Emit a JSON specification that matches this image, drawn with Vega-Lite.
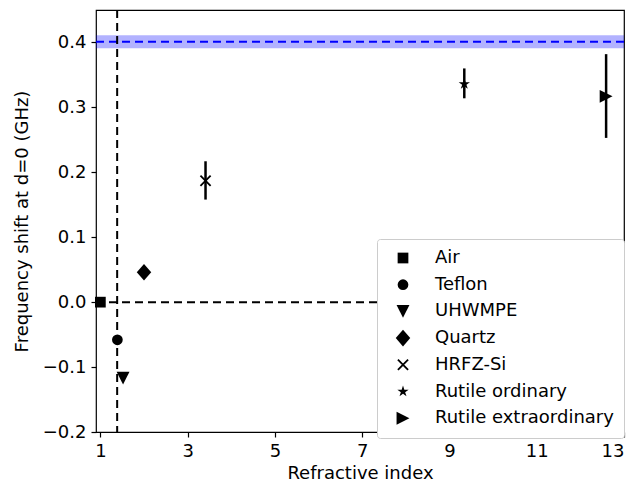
{
  "$schema": "https://vega.github.io/schema/vega-lite/v6.json",
  "width": 528,
  "height": 422,
  "autosize": {"type": "none"},
  "padding": {"left": 96, "top": 10, "right": 20, "bottom": 53},
  "config": {
    "font": "DejaVu Sans",
    "view": {"stroke": "black", "strokeWidth": 1.2},
    "axis": {
      "grid": false,
      "domain": false,
      "tickColor": "black",
      "tickSize": 5,
      "tickWidth": 1.2,
      "labelColor": "black",
      "labelFontSize": 18,
      "titleColor": "black",
      "titleFontSize": 18,
      "titleFontWeight": "normal",
      "labelPadding": 5
    }
  },
  "datasets": {
    "pts": [
      {"material": "Air", "n": 1.0, "shift": 0.0, "lo": 0.0, "hi": 0.0},
      {"material": "Teflon", "n": 1.39, "shift": -0.058, "lo": -0.058, "hi": -0.058},
      {"material": "UHWMPE", "n": 1.52, "shift": -0.117, "lo": -0.117, "hi": -0.117},
      {"material": "Quartz", "n": 2.0, "shift": 0.046, "lo": 0.046, "hi": 0.046},
      {"material": "HRFZ-Si", "n": 3.41, "shift": 0.187, "lo": 0.158, "hi": 0.217},
      {"material": "Rutile ordinary", "n": 9.34, "shift": 0.336, "lo": 0.314, "hi": 0.36},
      {"material": "Rutile extraordinary", "n": 12.59, "shift": 0.317, "lo": 0.253, "hi": 0.382}
    ],
    "band": [{"lo": 0.391, "hi": 0.411, "mid": 0.401}],
    "vline": [{"n": 1.385}],
    "hline": [{"y": 0}]
  },
  "layer": [
    {
      "data": {"name": "band"},
      "mark": {"type": "rect", "color": "blue", "opacity": 0.3},
      "encoding": {
        "y": {"field": "lo", "type": "quantitative", "scale": {"domain": [-0.2, 0.45], "nice": false, "zero": false},
          "axis": {"title": "Frequency shift at d=0 (GHz)", "orient": "left", "titlePadding": 11, "values": [-0.2, -0.1, 0, 0.1, 0.2, 0.3, 0.4], "format": ".1f"}},
        "y2": {"field": "hi"}
      }
    },
    {
      "data": {"name": "band"},
      "mark": {"type": "rule", "color": "blue", "strokeWidth": 2, "strokeDash": [8, 5]},
      "encoding": {
        "y": {"field": "mid", "type": "quantitative", "scale": {"domain": [-0.2, 0.45], "nice": false, "zero": false},
          "axis": {"title": "Frequency shift at d=0 (GHz)", "orient": "left", "titlePadding": 11, "values": [-0.2, -0.1, 0, 0.1, 0.2, 0.3, 0.4], "format": ".1f"}}
      }
    },
    {
      "data": {"name": "hline"},
      "mark": {"type": "rule", "color": "black", "strokeWidth": 2, "strokeDash": [8, 5]},
      "encoding": {
        "y": {"field": "y", "type": "quantitative", "scale": {"domain": [-0.2, 0.45], "nice": false, "zero": false},
          "axis": {"title": "Frequency shift at d=0 (GHz)", "orient": "left", "titlePadding": 11, "values": [-0.2, -0.1, 0, 0.1, 0.2, 0.3, 0.4], "format": ".1f"}}
      }
    },
    {
      "data": {"name": "vline"},
      "mark": {"type": "rule", "color": "black", "strokeWidth": 2, "strokeDash": [8, 5]},
      "encoding": {
        "x": {"field": "n", "type": "quantitative", "scale": {"domain": [0.9, 13], "nice": false, "zero": false},
          "axis": {"title": "Refractive index", "orient": "bottom", "values": [1, 3, 5, 7, 9, 11, 13], "format": "d"}}
      }
    },
    {
      "data": {"name": "pts"},
      "mark": {"type": "rule", "color": "black", "strokeWidth": 2.5},
      "encoding": {
        "x": {"field": "n", "type": "quantitative", "scale": {"domain": [0.9, 13], "nice": false, "zero": false},
          "axis": {"title": "Refractive index", "orient": "bottom", "values": [1, 3, 5, 7, 9, 11, 13], "format": "d"}},
        "y": {"field": "lo", "type": "quantitative", "scale": {"domain": [-0.2, 0.45], "nice": false, "zero": false},
          "axis": {"title": "Frequency shift at d=0 (GHz)", "orient": "left", "titlePadding": 11, "values": [-0.2, -0.1, 0, 0.1, 0.2, 0.3, 0.4], "format": ".1f"}},
        "y2": {"field": "hi"}
      }
    },
    {
      "data": {"name": "pts"},
      "mark": {"type": "point", "filled": true, "opacity": 1, "color": "black", "size": 115},
      "encoding": {
        "x": {"field": "n", "type": "quantitative", "scale": {"domain": [0.9, 13], "nice": false, "zero": false},
          "axis": {"title": "Refractive index", "orient": "bottom", "values": [1, 3, 5, 7, 9, 11, 13], "format": "d"}},
        "y": {"field": "shift", "type": "quantitative", "scale": {"domain": [-0.2, 0.45], "nice": false, "zero": false},
          "axis": {"title": "Frequency shift at d=0 (GHz)", "orient": "left", "titlePadding": 11, "values": [-0.2, -0.1, 0, 0.1, 0.2, 0.3, 0.4], "format": ".1f"}},
        "shape": {
          "field": "material", "type": "nominal",
          "scale": {
            "domain": ["Air", "Teflon", "UHWMPE", "Quartz", "HRFZ-Si", "Rutile ordinary", "Rutile extraordinary"],
            "range": [
              "square",
              "circle",
              "M-1.2,-1.2L1.2,-1.2L0,1.2Z",
              "M0,-1.55L1.35,0L0,1.55L-1.35,0Z",
              "M-0.83,-1.07L1.07,0.83L0.83,1.07L-1.07,-0.83ZM-1.07,0.83L0.83,-1.07L1.07,-0.83L-0.83,1.07Z",
              "M0,-1.1L0.25,-0.34L1.05,-0.34L0.4,0.13L0.65,0.89L0,0.42L-0.65,0.89L-0.4,0.13L-1.05,-0.34L-0.25,-0.34Z",
              "M-1.2,-1.2L1.2,0L-1.2,1.2Z"
            ]
          },
          "legend": {
            "title": null,
            "orient": "none",
            "legendX": 281,
            "legendY": 229,
            "padding": 10,
            "strokeColor": "#cccccc",
            "fillColor": "white",
            "cornerRadius": 3,
            "rowPadding": 8.7,
            "labelFontSize": 18,
            "labelLimit": 400,
            "labelColor": "black",
            "symbolFillColor": "black",
            "symbolStrokeWidth": 0,
            "symbolSize": 115,
            "labelOffset": 23,
            "symbolOffset": 7
          }
        }
      }
    }
  ]
}
